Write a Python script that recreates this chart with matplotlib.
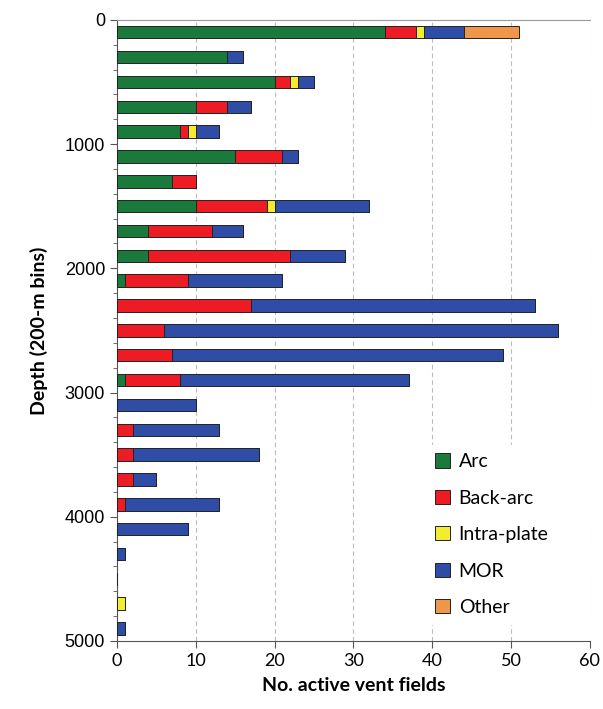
import matplotlib.pyplot as plt
import numpy as np

# depth bins (centre of each 200-m bin)
depth = np.arange(100, 5000, 200)

# vent field counts per bin, per tectonic setting
arc = [34, 14, 20, 10, 8, 15, 7, 10, 4, 4, 1, 0, 0, 0, 1, 0, 0, 0, 0, 0, 0, 0, 0, 0, 0]
back_arc = [4, 0, 2, 4, 1, 6, 3, 9, 8, 18, 8, 17, 6, 7, 7, 0, 2, 2, 2, 1, 0, 0, 0, 0, 0]
intra_plate = [1, 0, 1, 0, 1, 0, 0, 1, 0, 0, 0, 0, 0, 0, 0, 0, 0, 0, 0, 0, 0, 0, 0, 1, 0]
mor = [5, 2, 2, 3, 3, 2, 0, 12, 4, 7, 12, 36, 50, 42, 29, 10, 11, 16, 3, 12, 9, 1, 0, 0, 1]
other = [7, 0, 0, 0, 0, 0, 0, 0, 0, 0, 0, 0, 0, 0, 0, 0, 0, 0, 0, 0, 0, 0, 0, 0, 0]

series = [
    ('Arc', arc, '#197a3c'),
    ('Back-arc', back_arc, '#ed1c24'),
    ('Intra-plate', intra_plate, '#f4ec2f'),
    ('MOR', mor, '#2f4da6'),
    ('Other', other, '#f0964b'),
]

label_font = 'Lato'

fig = plt.figure(figsize=(6.03, 7.09), dpi=100)
ax = fig.add_axes([0.194, 0.096, 0.784, 0.876])

left = np.zeros(len(depth))
for name, vals, col in series:
    vals = np.array(vals, dtype=float)
    ax.barh(depth, vals, height=100, left=left, color=col,
            edgecolor='#222222', linewidth=0.7, label=name, zorder=3)
    left += vals

ax.set_xlim(0, 60)
ax.set_ylim(5000, 0)
ax.set_xticks(np.arange(0, 61, 10))
ax.set_yticks(np.arange(0, 5001, 1000))
ax.set_yticks(np.arange(0, 5001, 200), minor=True)
ax.tick_params(axis='y', which='major', length=5, direction='out', labelsize=13,
               colors='#555555', labelcolor='black')
ax.tick_params(axis='y', which='minor', length=3, direction='out', colors='#555555')
ax.tick_params(axis='x', length=5, direction='out', labelsize=13, colors='#555555',
               labelcolor='black')
for lbl in ax.get_yticklabels():
    lbl.set_family('Liberation Sans')
for lbl in ax.get_xticklabels():
    lbl.set_family(label_font)

ax.xaxis.grid(True, linestyle=(0, (4, 3)), color='#bbbbbb', linewidth=0.8, zorder=0)
ax.set_axisbelow(True)

ax.spines['right'].set_visible(False)
ax.spines['top'].set_color('#999999')
for s in ('left', 'bottom'):
    ax.spines[s].set_color('#555555')

ax.set_xlabel('No. active vent fields', fontsize=14, fontweight='bold',
              family=label_font, labelpad=6)
ax.set_ylabel('Depth (200-m bins)', fontsize=14, fontweight='bold',
              family=label_font, labelpad=12)

leg = ax.legend(loc='lower right', bbox_to_anchor=(0.95, 0.012), frameon=True,
                framealpha=1, edgecolor='white', facecolor='white',
                prop={'family': label_font, 'size': 14}, handlelength=0.75,
                handleheight=0.75, handletextpad=0.45, labelspacing=1.0,
                borderpad=0.4)
leg.set_zorder(5)

fig.savefig('out.png', dpi=100)
